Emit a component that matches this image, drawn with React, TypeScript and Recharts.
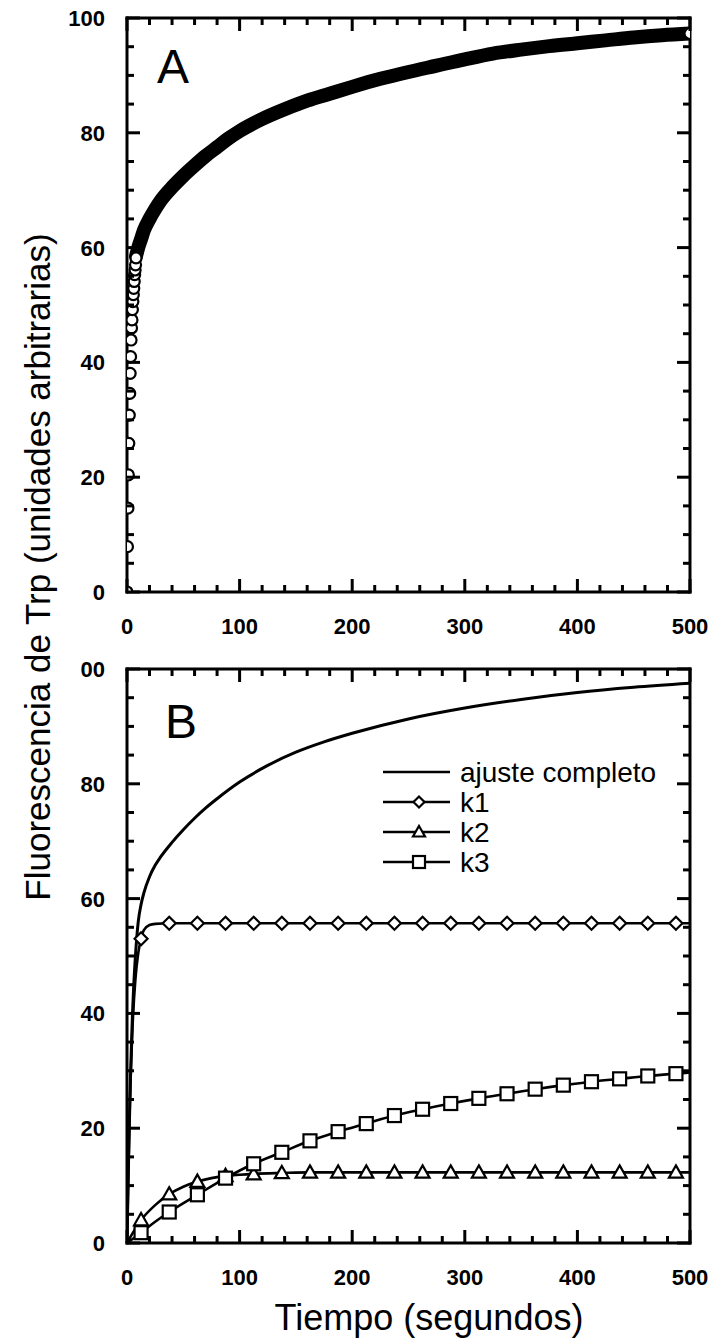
import React from 'react';
import { ComposedChart, Line, Scatter, XAxis, YAxis } from 'recharts';

// ---------- Data ----------
// Panel A: measured points (early, well separated) + dense band + final point
const earlyT = [0, 0.4, 0.8, 1.2, 1.6, 2.0, 2.4, 2.8, 3.2, 3.6, 4.0, 4.4, 4.8, 5.2, 5.6, 6.0, 6.4, 6.8, 7.2, 7.6, 8.0];
const earlyV = [0, 7.9, 14.6, 20.4, 25.9, 30.8, 34.6, 38.1, 41.0, 43.9, 46.0, 47.4, 49.2, 50.6, 51.8, 52.9, 54.1, 55.3, 56.1, 57.0, 58.2];
const bandT = [8, 10, 12.5, 15, 20, 25, 30, 40, 50, 60, 70, 80, 90, 100, 120, 140, 160, 180, 200, 225, 250, 275, 300, 325, 350, 375, 400, 425, 450, 475, 500];
const bandV = [58.5, 60, 61.5, 63, 65, 66.7, 68.2, 70.5, 72.5, 74.3, 76, 77.5, 79, 80.3, 82.4, 84.1, 85.6, 86.8, 88, 89.4, 90.6, 91.7, 92.8, 93.8, 94.5, 95.1, 95.6, 96.1, 96.6, 97, 97.3];
const lastT = [500];
const lastV = [97.3];

// Panel B: full fit and the three components
const fitT = [0, 1, 2, 3, 4, 5, 6, 7, 8, 9, 10, 12.5, 15, 20, 25, 30, 40, 50, 60, 70, 80, 100, 125, 150, 175, 200, 250, 300, 350, 400, 450, 500];
const fitV = [0, 11, 20, 28, 35, 40.5, 45, 48.5, 51.5, 54, 56, 59, 61, 63.8, 65.8, 67.3, 69.8, 72, 74, 75.8, 77.4, 80.3, 83.2, 85.5, 87.3, 88.8, 91.3, 93.2, 94.7, 95.9, 96.8, 97.5];

const k1T = [0, 2.5, 5, 7.5, 10, 12.5, 15, 20, 25, 37.5, 500];
const k1V = [0, 24, 38, 46, 50.5, 53, 54.5, 55.4, 55.6, 55.7, 55.7];
const k2T = [0, 12.5, 25, 37.5, 50, 62.5, 75, 87.5, 100, 112.5, 137.5, 162.5, 500];
const k2V = [0, 4.0, 6.6, 8.5, 9.8, 10.7, 11.3, 11.7, 11.9, 12.05, 12.2, 12.3, 12.3];
const k3T = [0, 12.5, 25, 37.5, 62.5, 87.5, 112.5, 137.5, 162.5, 187.5, 212.5, 237.5, 262.5, 287.5, 312.5, 337.5, 362.5, 387.5, 412.5, 437.5, 462.5, 487.5, 500];
const k3V = [0, 1.8, 3.7, 5.4, 8.4, 11.3, 13.8, 15.8, 17.8, 19.4, 20.8, 22.2, 23.3, 24.3, 25.2, 26.0, 26.8, 27.5, 28.1, 28.6, 29.1, 29.5, 29.7];

const markT = [12.5, 37.5, 62.5, 87.5, 112.5, 137.5, 162.5, 187.5, 212.5, 237.5, 262.5, 287.5, 312.5, 337.5, 362.5, 387.5, 412.5, 437.5, 462.5, 487.5];
const k1Marks = [53, 55.7, 55.7, 55.7, 55.7, 55.7, 55.7, 55.7, 55.7, 55.7, 55.7, 55.7, 55.7, 55.7, 55.7, 55.7, 55.7, 55.7, 55.7, 55.7];
const k2Marks = [4.0, 8.5, 10.7, 11.7, 12.0, 12.2, 12.3, 12.3, 12.3, 12.3, 12.3, 12.3, 12.3, 12.3, 12.3, 12.3, 12.3, 12.3, 12.3, 12.3];
const k3Marks = [1.8, 5.4, 8.4, 11.3, 13.8, 15.8, 17.8, 19.4, 20.8, 22.2, 23.3, 24.3, 25.2, 26.0, 26.8, 27.5, 28.1, 28.6, 29.1, 29.5];

// Ticks
const xTicks = [0, 20, 40, 60, 80, 100, 120, 140, 160, 180, 200, 220, 240, 260, 280, 300, 320, 340, 360, 380, 400, 420, 440, 460, 480, 500];
const xMajorLabels: Record<number, string> = { 0: '0', 100: '100', 200: '200', 300: '300', 400: '400', 500: '500' };
const yTicks = [0, 5, 10, 15, 20, 25, 30, 35, 40, 45, 50, 55, 60, 65, 70, 75, 80, 85, 90, 95, 100];
const yLabelsA: Record<number, string> = { 0: '0', 20: '20', 40: '40', 60: '60', 80: '80', 100: '100' };
const yLabelsB: Record<number, string> = { 0: '0', 20: '20', 40: '40', 60: '60', 80: '80', 100: '00' };
const legendNames = ['ajuste completo', 'k1', 'k2', 'k3'];

const zip = (t: number[], v: number[]) => t.map((x, i) => ({ t: x, v: v[i] }));

// ---------- Styles ----------
const FONT = '"Liberation Sans", Arial, Helvetica, sans-serif';
const MAJOR = 13;
const MINOR = 7;
const TW = 3;
const TICK_FS = 22;

const isMajorX = (v: number) => xMajorLabels[v] !== undefined;
const isMajorY = (v: number) => v % 20 === 0;

const BottomTick = (props: any) => {
  const { x, y, payload } = props;
  const v = payload.value;
  const len = isMajorX(v) ? MAJOR : MINOR;
  return (
    <g>
      <line x1={x} y1={y} x2={x} y2={y - len} stroke="#000" strokeWidth={TW} />
      {isMajorX(v) && (
        <text x={x} y={y + 42} textAnchor="middle" fontFamily={FONT} fontWeight="bold" fontSize={TICK_FS} fill="#000">
          {xMajorLabels[v]}
        </text>
      )}
    </g>
  );
};
const TopTick = (props: any) => {
  const { x, y, payload } = props;
  const len = isMajorX(payload.value) ? MAJOR : MINOR;
  return <line x1={x} y1={y} x2={x} y2={y + len} stroke="#000" strokeWidth={TW} />;
};
const makeLeftTick = (labels: Record<number, string>) => (props: any) => {
  const { x, y, payload } = props;
  const v = payload.value;
  const len = isMajorY(v) ? MAJOR : MINOR;
  return (
    <g>
      <line x1={x} y1={y} x2={x + len} y2={y} stroke="#000" strokeWidth={TW} />
      {labels[v] !== undefined && (
        <text x={x - 22} y={y + 8} textAnchor="end" fontFamily={FONT} fontWeight="bold" fontSize={TICK_FS} fill="#000">
          {labels[v]}
        </text>
      )}
    </g>
  );
};
const RightTick = (props: any) => {
  const { x, y, payload } = props;
  const len = isMajorY(payload.value) ? MAJOR : MINOR;
  return <line x1={x} y1={y} x2={x - len} y2={y} stroke="#000" strokeWidth={TW} />;
};
const LeftTickA = makeLeftTick(yLabelsA);
const LeftTickB = makeLeftTick(yLabelsB);

const circleShape = (p: any) => (
  <circle cx={p.cx} cy={p.cy} r={5.5} fill="#fff" stroke="#000" strokeWidth={2.2} />
);
const diamondShape = (p: any, s = 6.5) => (
  <polygon
    points={`${p.cx},${p.cy - s} ${p.cx + s},${p.cy} ${p.cx},${p.cy + s} ${p.cx - s},${p.cy}`}
    fill="#fff" stroke="#000" strokeWidth={2.2}
  />
);
const triangleShape = (p: any, s = 7) => (
  <polygon
    points={`${p.cx},${p.cy - s} ${p.cx + s},${p.cy + s * 0.75} ${p.cx - s},${p.cy + s * 0.75}`}
    fill="#fff" stroke="#000" strokeWidth={2.2}
  />
);
const squareShape = (p: any, s = 6.5) => (
  <rect x={p.cx - s} y={p.cy - s} width={2 * s} height={2 * s} fill="#fff" stroke="#000" strokeWidth={2.2} />
);

const axisLine = { stroke: '#000', strokeWidth: TW, strokeLinecap: 'square' as const };
const MARGIN = { top: 17, right: 23, bottom: 28, left: 67 };

function Frame(LeftTick: any) {
  return [
    <XAxis key="xb" xAxisId="b" dataKey="t" type="number" domain={[0, 500]} ticks={xTicks} interval={0}
      tickSize={0} tickMargin={0} tick={BottomTick} axisLine={axisLine} tickLine={false} height={40} allowDataOverflow />,
    <XAxis key="xt" xAxisId="t" orientation="top" dataKey="t" type="number" domain={[0, 500]} ticks={xTicks} interval={0}
      tickSize={0} tickMargin={0} tick={TopTick} axisLine={axisLine} tickLine={false} height={1} allowDataOverflow />,
    <YAxis key="yl" yAxisId="l" dataKey="v" type="number" domain={[0, 100]} ticks={yTicks} interval={0}
      tickSize={0} tickMargin={0} tick={LeftTick} axisLine={axisLine} tickLine={false} width={60} allowDataOverflow />,
    <YAxis key="yr" yAxisId="r" orientation="right" dataKey="v" type="number" domain={[0, 100]} ticks={yTicks} interval={0}
      tickSize={0} tickMargin={0} tick={RightTick} axisLine={axisLine} tickLine={false} width={1} allowDataOverflow />,
  ];
}

export default function App() {
  const early = zip(earlyT, earlyV);
  const band = zip(bandT, bandV);
  const last = zip(lastT, lastV);
  const fit = zip(fitT, fitV);
  const k1 = zip(k1T, k1V);
  const k2 = zip(k2T, k2V);
  const k3 = zip(k3T, k3V);
  const k1m = zip(markT, k1Marks);
  const k2m = zip(markT, k2Marks);
  const k3m = zip(markT, k3Marks);

  const legendRows = [
    { y: 772, shape: null },
    { y: 802, shape: 'd' },
    { y: 832, shape: 't' },
    { y: 862, shape: 's' },
  ];

  return (
    <div style={{ position: 'absolute', left: 0, top: 0, width: 714, height: 1342, background: '#fff', overflow: 'hidden' }}>
      <div style={{ position: 'absolute', left: 0, top: 0 }}>
        <ComposedChart width={714} height={660} margin={MARGIN}>
          {Frame(LeftTickA)}
          <Line data={band} xAxisId="b" yAxisId="l" dataKey="v" type="monotone" stroke="#000" strokeWidth={14}
            strokeLinecap="round" dot={false} activeDot={false} isAnimationActive={false} />
          <Scatter data={early} xAxisId="b" yAxisId="l" dataKey="v" shape={circleShape} isAnimationActive={false} />
          <Scatter data={last} xAxisId="b" yAxisId="l" dataKey="v" shape={circleShape} isAnimationActive={false} />
        </ComposedChart>
      </div>
      <div style={{ position: 'absolute', left: 0, top: 651 }}>
        <ComposedChart width={714} height={660} margin={MARGIN}>
          {Frame(LeftTickB)}
          <Line data={fit} xAxisId="b" yAxisId="l" dataKey="v" type="monotone" stroke="#000" strokeWidth={3}
            dot={false} activeDot={false} isAnimationActive={false} />
          <Line data={k1} xAxisId="b" yAxisId="l" dataKey="v" type="monotone" stroke="#000" strokeWidth={2.6}
            dot={false} activeDot={false} isAnimationActive={false} />
          <Line data={k2} xAxisId="b" yAxisId="l" dataKey="v" type="monotone" stroke="#000" strokeWidth={2.6}
            dot={false} activeDot={false} isAnimationActive={false} />
          <Line data={k3} xAxisId="b" yAxisId="l" dataKey="v" type="monotone" stroke="#000" strokeWidth={2.6}
            dot={false} activeDot={false} isAnimationActive={false} />
          <Scatter data={k1m} xAxisId="b" yAxisId="l" dataKey="v" shape={(p: any) => diamondShape(p)} isAnimationActive={false} />
          <Scatter data={k2m} xAxisId="b" yAxisId="l" dataKey="v" shape={(p: any) => triangleShape(p)} isAnimationActive={false} />
          <Scatter data={k3m} xAxisId="b" yAxisId="l" dataKey="v" shape={(p: any) => squareShape(p)} isAnimationActive={false} />
        </ComposedChart>
      </div>
      <svg width={714} height={1342} style={{ position: 'absolute', left: 0, top: 0, pointerEvents: 'none' }}>
        <text x={157} y={83} fontFamily={FONT} fontSize={48} fill="#000">A</text>
        <text x={165} y={738} fontFamily={FONT} fontSize={48} fill="#000">B</text>
        {legendRows.map((r, i) => (
          <g key={i}>
            <line x1={383} y1={r.y} x2={450} y2={r.y} stroke="#000" strokeWidth={2.6} />
            {r.shape === 'd' && diamondShape({ cx: 419, cy: r.y }, 5.5)}
            {r.shape === 't' && triangleShape({ cx: 419, cy: r.y }, 6)}
            {r.shape === 's' && squareShape({ cx: 419, cy: r.y }, 6)}
            <text x={460} y={r.y + 10} fontFamily={FONT} fontSize={28} fill="#000">{legendNames[i]}</text>
          </g>
        ))}
        <text x={429} y={1330} textAnchor="middle" fontFamily={FONT} fontSize={36} fill="#000">Tiempo (segundos)</text>
        <text x={0} y={0} transform="translate(50,567) rotate(-90)" textAnchor="middle" fontFamily={FONT} fontSize={35} fill="#000">
          Fluorescencia de Trp (unidades arbitrarias)
        </text>
      </svg>
    </div>
  );
}
